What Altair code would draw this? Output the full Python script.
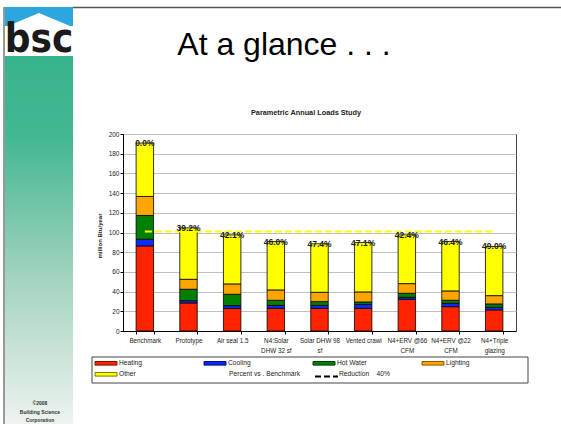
import altair as alt
import pandas as pd

# ---------------- data ----------------
categories = ["Benchmark", "Prototype", "Air seal 1.5", "N4:Solar|DHW 32 sf",
              "Solar DHW 98|sf", "Vented crawl", "N4+ERV @66|CFM",
              "N4+ERV @22|CFM", "N4+Triple|glazing"]
series = ["Heating", "Cooling", "Hot Water", "Lighting", "Other"]
colors = ["#FF2400", "#0A2BFF", "#008000", "#FFA500", "#FFFF00"]
swatch_borders = ["#7a1200", "#00106e", "#003d00", "#8a5a00", "#7a7a00"]

heating = [86.4, 28.5, 23.0, 23.0, 23.0, 23.0, 32.2, 24.7, 21.4]
cooling = [6.8, 2.3, 2.8, 3.0, 3.0, 4.0, 2.0, 3.4, 2.7]
hot_water = [24.1, 11.6, 11.5, 5.2, 3.8, 2.5, 4.1, 3.1, 3.4]
lighting = [19.3, 10.1, 10.5, 10.5, 9.5, 10.2, 9.8, 9.5, 8.4]
other = [54.2, 52.2, 49.8, 49.1, 49.2, 50.1, 49.5, 50.1, 49.9]
pct_labels = ["0.0%", "39.2%", "42.1%", "46.0%", "47.4%", "47.1%", "42.4%", "46.4%", "49.0%"]
reduction_level = 101
y_ticks = list(range(0, 201, 20))

slide_title = "At a glance . . ."
chart_title = "Parametric Annual Loads Study"
y_title = "million Btu/year"
copyright_lines = ["\u00a92008", "Building Science", "Corporation"]
legend_extra = ["Percent vs . Benchmark", "Reduction\u00a0\u00a0\u00a0\u00a040%"]

# ---------------- tables ----------------
values = [heating, cooling, hot_water, lighting, other]
rows = []
for si, s in enumerate(series):
    for ci, c in enumerate(categories):
        rows.append({"cat": c, "series": s, "ord": si, "val": values[si][ci]})
df = pd.DataFrame(rows)
tot = pd.DataFrame({"cat": categories,
                    "val": [sum(v[i] for v in values) for i in range(len(categories))],
                    "pct": pct_labels})
line_df = pd.DataFrame({"cat": [categories[0], categories[-1]],
                        "val": [reduction_level, reduction_level]})
one = pd.DataFrame({"k": [0]})

# ---------------- geometry (page px -> plot px) ----------------
L, T = 123, 134
W, H = 393, 197
def px(x):
    return x - L
def py(y):
    return y - T

FONT = "Liberation Sans, Arial, sans-serif"

xenc = alt.X("cat:N", sort=categories,
             scale=alt.Scale(domain=categories, paddingInner=0.6, paddingOuter=0.3),
             axis=alt.Axis(title=None, labelAngle=0, labelFontSize=6.3, labelFont=FONT,
                           labelColor="#222", labelExpr="split(datum.label, '|')",
                           labelLineHeight=10, labelBaseline="top", labelPadding=3,
                           tickSize=3, tickColor="black", tickBand="extent",
                           domainColor="black", grid=False))
yaxis = alt.Axis(title=None, values=y_ticks, labelFontSize=6.5, labelFont=FONT,
                 labelColor="#222", labelPadding=1, tickSize=3, labelOverlap=False,
                 tickColor="black", domainColor="black", grid=True,
                 gridColor="#c0c0c0", gridWidth=1)
yscale = alt.Scale(domain=[0, 200], nice=False)

layers = []

def rect(x1, y1, x2, y2, **kw):
    return alt.Chart(one).mark_rect(**kw).encode(
        x=alt.value(px(x1)), x2=alt.value(px(x2)),
        y=alt.value(py(y1)), y2=alt.value(py(y2)))

def text(x, y, s, **kw):
    return alt.Chart(one).mark_text(**kw).encode(
        x=alt.value(px(x)), y=alt.value(py(y)), text=alt.value(s))

def rule(x1, y1, x2, y2, **kw):
    return alt.Chart(one).mark_rule(**kw).encode(
        x=alt.value(px(x1)), x2=alt.value(px(x2)),
        y=alt.value(py(y1)), y2=alt.value(py(y2)))

# ---- slide decorations ----
strip_grad = alt.Gradient(gradient="linear", x1=0, x2=0, y1=0, y2=1,
                          stops=[alt.GradientStop(offset=0, color="#37b48d"),
                                 alt.GradientStop(offset=0.22, color="#42b793"),
                                 alt.GradientStop(offset=0.6, color="#a2d3bd"),
                                 alt.GradientStop(offset=1, color="#eef3ef")])
layers.append(rect(5, 55, 73, 424, fill=strip_grad))
layers.append(rect(5, 7, 73, 30, color="#2ba7de"))
layers.append(rect(5, 26, 73, 56, color="white"))
layers.append(alt.Chart(one).mark_point(shape="M-1,0.42L0,0L1,0.42Z", size=4624,
                                        filled=True, fill="white", opacity=1,
                                        strokeWidth=0).encode(
    x=alt.value(px(39)), y=alt.value(py(13))))
layers.append(text(39, 52, "bsc", font="Liberation Sans Narrow, DejaVu Sans Condensed, sans-serif",
                   fontWeight="bold", fontSize=40, color="#1a1a1a", align="center",
                   baseline="alphabetic"))
layers.append(rule(4, 7, 4, 424, color="#333", strokeWidth=1))
layers.append(rule(73, 7.5, 561, 7.5, color="#555", strokeWidth=1.5))
layers.append(text(284, 55, slide_title, font=FONT, fontSize=32, color="black",
                   align="center", baseline="alphabetic"))
for i, s in enumerate(copyright_lines):
    layers.append(text(40, 403 + i * 8.5, s, font=FONT, fontSize=5, fontWeight="bold",
                       color="#333", align="center", baseline="middle"))

# ---- chart titles ----
layers.append(text(306, 113, chart_title, font=FONT, fontSize=7.3, fontWeight="bold",
                   color="#222", align="center", baseline="middle"))
layers.append(text(100, 236, y_title, font=FONT, fontSize=6, fontWeight="bold",
                   color="#222", align="center", baseline="middle", angle=270))

# ---- bars ----
bars = alt.Chart(df).mark_bar(stroke="black", strokeWidth=0.8).encode(
    x=xenc,
    y=alt.Y("val:Q", stack="zero", scale=yscale, axis=yaxis),
    color=alt.Color("series:N", scale=alt.Scale(domain=series, range=colors), legend=None),
    order=alt.Order("ord:Q"),
)
layers.append(bars)

dash = alt.Chart(line_df).mark_line(color="#FFFF00", strokeDash=[7, 3], strokeWidth=2).encode(
    x=xenc, y=alt.Y("val:Q", scale=yscale, axis=yaxis))
layers.append(dash)

lbl = alt.Chart(tot).mark_text(font=FONT, fontSize=8.5, fontWeight="bold", color="#222",
                               baseline="middle").encode(
    x=xenc, y=alt.Y("val:Q", scale=yscale, axis=yaxis), text="pct:N")
layers.append(lbl)

# ---- legend box ----
layers.append(rect(92, 357, 528, 383, fill="white", stroke="#444", strokeWidth=1))
col_x = [95, 204, 313, 422]
for i, s in enumerate(series):
    r, c = divmod(i, 4)
    yc = 363.3 + r * 11
    layers.append(rect(col_x[c], yc - 1.8, col_x[c] + 22, yc + 1.8,
                       fill=colors[i], stroke=swatch_borders[i], strokeWidth=1))
    layers.append(text(col_x[c] + 24, yc, s, font=FONT, fontSize=6.7, color="#222",
                       align="left", baseline="middle"))
layers.append(text(229, 374.3, legend_extra[0], font=FONT, fontSize=6.7,
                   color="#222", align="left", baseline="middle"))
layers.append(rule(315, 376.5, 338, 376.5, color="black", strokeWidth=2, strokeDash=[6, 3]))
layers.append(text(339, 374.3, legend_extra[1], font=FONT, fontSize=6.7, color="#222",
                   align="left", baseline="middle"))

chart = alt.layer(*layers).properties(
    width=W, height=H,
    autosize=alt.AutoSizeParams(type="none"),
    padding={"left": L, "top": T, "right": 561 - L - W, "bottom": 424 - T - H},
    background="white",
).configure_view(stroke="#444", strokeWidth=1)

chart.save("out.html", embed_options={"renderer": "svg", "actions": False})
